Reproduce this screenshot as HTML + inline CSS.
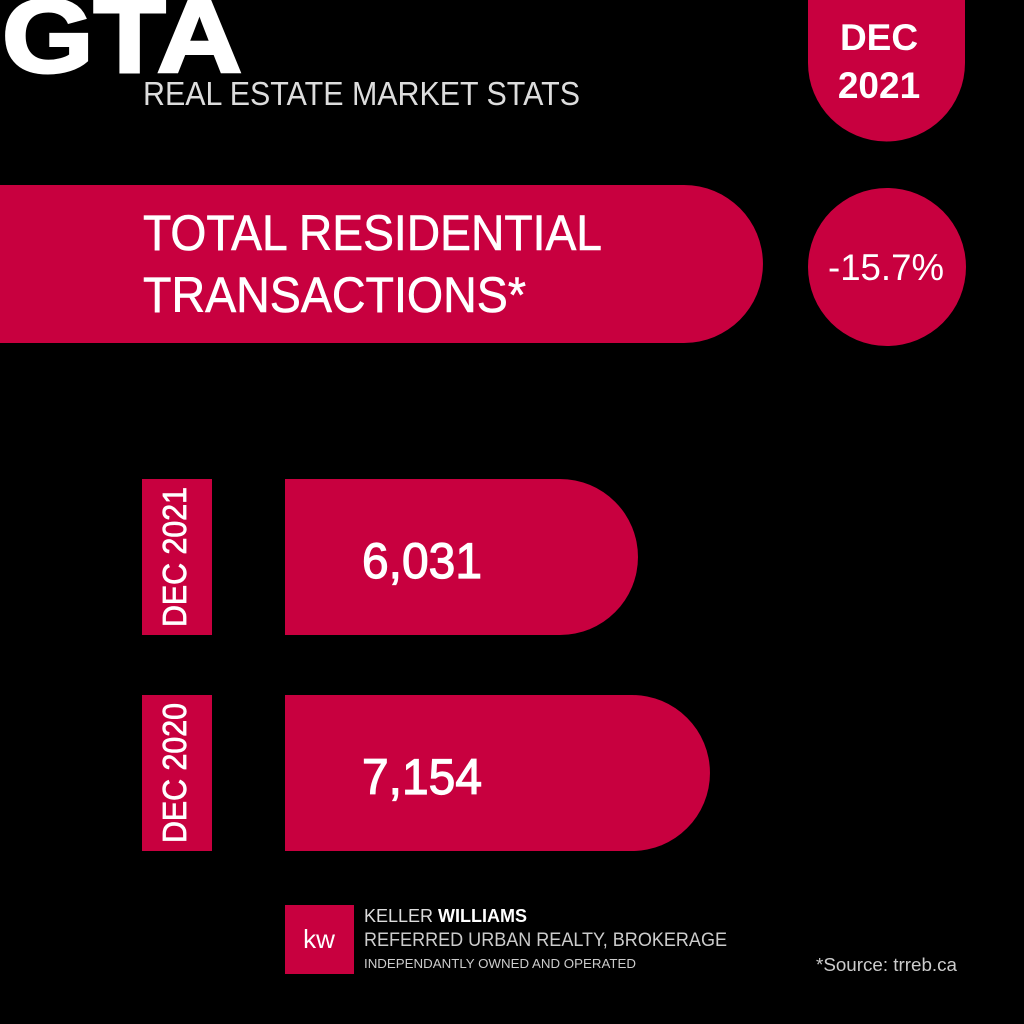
<!DOCTYPE html>
<html><head><meta charset="utf-8"><style>html,body{margin:0;background:#000;}svg{display:block;font-family:"Liberation Sans",sans-serif;}</style></head>
<body>
<svg width="1024" height="1024" viewBox="0 0 1024 1024">
<rect width="1024" height="1024" fill="#000"/>
<text x="2" y="72" font-size="104" font-weight="bold" fill="#fff" stroke="#fff" stroke-width="3" textLength="240" lengthAdjust="spacingAndGlyphs">GTA</text>
<text x="143" y="105" font-size="33" fill="#ddd" textLength="437" lengthAdjust="spacingAndGlyphs">REAL ESTATE MARKET STATS</text>
<path d="M808 0 H965 V63 A78.5 78.5 0 0 1 808 63 Z" fill="#c8003f"/>
<text x="879" y="50" font-size="37" font-weight="bold" fill="#fff" text-anchor="middle">DEC</text>
<text x="879" y="98" font-size="37" font-weight="bold" fill="#fff" text-anchor="middle">2021</text>
<path d="M0 185 H684 A79 79 0 0 1 684 343 H0 Z" fill="#c8003f"/>
<text x="143" y="250" font-size="50" fill="#fff" stroke="#fff" stroke-width="0.6" textLength="459" lengthAdjust="spacingAndGlyphs">TOTAL RESIDENTIAL</text>
<text x="143" y="312" font-size="50" fill="#fff" stroke="#fff" stroke-width="0.6" textLength="383" lengthAdjust="spacingAndGlyphs">TRANSACTIONS*</text>
<circle cx="887" cy="267" r="79" fill="#c8003f"/>
<text x="886" y="280" font-size="37" fill="#fff" text-anchor="middle" textLength="116" lengthAdjust="spacingAndGlyphs">-15.7%</text>
<g id="bars"></g>
<rect x="285" y="905" width="69" height="69" fill="#c8003f"/>
<text x="319" y="948" font-size="26" fill="#fff" text-anchor="middle">kw</text>
<text x="364" y="922" font-size="18" fill="#ddd">KELLER <tspan font-weight="bold" fill="#fff">WILLIAMS</tspan></text>
<text x="364" y="946" font-size="19" fill="#ccc" textLength="363" lengthAdjust="spacingAndGlyphs">REFERRED URBAN REALTY, BROKERAGE</text>
<text x="364" y="968" font-size="13" fill="#ccc" textLength="272" lengthAdjust="spacingAndGlyphs">INDEPENDANTLY OWNED AND OPERATED</text>
<text x="816" y="971" font-size="18" fill="#ccc" textLength="141" lengthAdjust="spacingAndGlyphs">*Source: trreb.ca</text>
</svg>
<script>
const categories = ["DEC 2021", "DEC 2020"];
const values = [6031, 7154];
const valueLabels = ["6,031", "7,154"];
const NS = "http://www.w3.org/2000/svg";
const g = document.getElementById("bars");
const x0 = 285, xScale = v => v * 0.0641 - 33.6;
const rowY = i => 479 + i * 216, h = 156, r = 78;
categories.forEach((c, i) => {
  const y = rowY(i);
  const lab = document.createElementNS(NS, "rect");
  lab.setAttribute("x", 142); lab.setAttribute("y", y); lab.setAttribute("width", 70); lab.setAttribute("height", h); lab.setAttribute("fill", "#c8003f");
  
  
  g.appendChild(lab);
  const lt = document.createElementNS(NS, "text");
  lt.setAttribute("transform", `translate(186,${y + h / 2}) rotate(-90)`);
  lt.setAttribute("text-anchor", "middle"); lt.setAttribute("font-size", "33"); lt.setAttribute("fill", "#fff");
  lt.setAttribute("stroke", "#fff"); lt.setAttribute("stroke-width", "0.8");
  lt.setAttribute("textLength", "140"); lt.setAttribute("lengthAdjust", "spacingAndGlyphs");
  lt.textContent = c;
  
  
  g.appendChild(lt);
  const w = xScale(values[i]);
  const p = document.createElementNS(NS, "path");
  p.setAttribute("d", `M${x0} ${y} H${x0 + w - r} A${r} ${r} 0 0 1 ${x0 + w - r} ${y + h} H${x0} Z`);
  p.setAttribute("fill", "#c8003f");
  
  
  g.appendChild(p);
  const vt = document.createElementNS(NS, "text");
  vt.setAttribute("x", 362); vt.setAttribute("y", y + 99);
  vt.setAttribute("font-size", "50"); vt.setAttribute("fill", "#fff");
  vt.setAttribute("stroke", "#fff"); vt.setAttribute("stroke-width", "1.2");
  vt.setAttribute("textLength", "120"); vt.setAttribute("lengthAdjust", "spacingAndGlyphs");
  vt.textContent = valueLabels[i];
  
  
  g.appendChild(vt);
});
</script>
</body></html>
